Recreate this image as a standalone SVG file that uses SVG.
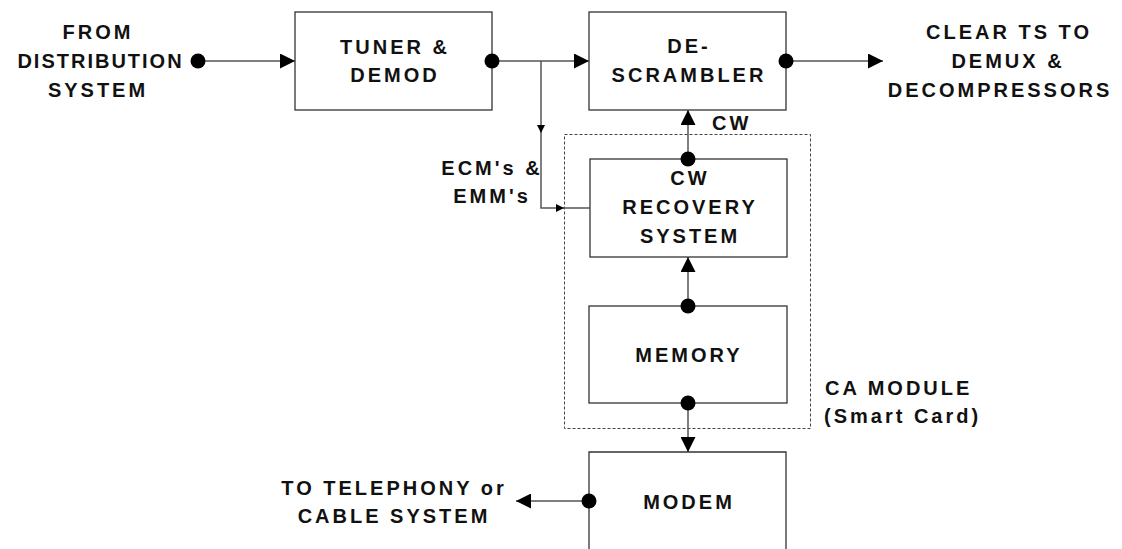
<svg xmlns="http://www.w3.org/2000/svg" width="1122" height="549" viewBox="0 0 1122 549">
<style>
  text { font-family: "Liberation Sans", Arial, sans-serif; font-weight: bold; font-size: 20px; letter-spacing: 3px; fill: #111; text-anchor: middle; }
  .box { fill: #fff; stroke: #333; stroke-width: 1.3; }
  .dash { fill: none; stroke: #444; stroke-width: 1; stroke-dasharray: 3 2; }
  .wire { fill: none; stroke: #555; stroke-width: 1.5; }
  .dot { fill: #000; }
</style>
<defs>
  <marker id="big" viewBox="0 0 15 15" markerWidth="15" markerHeight="15" refX="15" refY="7.5" orient="auto" markerUnits="userSpaceOnUse">
    <path d="M0,0 L15,7.5 L0,15 z" fill="#000"/>
  </marker>
  <marker id="small" viewBox="0 0 8 8" markerWidth="8" markerHeight="8" refX="8" refY="4" orient="auto" markerUnits="userSpaceOnUse">
    <path d="M0,0 L8,4 L0,8 z" fill="#000"/>
  </marker>
</defs>

<g id="ca-module">
  <rect class="dash" x="564.5" y="134.5" width="246" height="294"/>
  <text style="text-anchor:start" x="825" y="395">CA MODULE</text>
  <text style="text-anchor:start" x="824" y="423">(Smart Card)</text>
</g>

<g id="source">
  <text x="98" y="39">FROM</text>
  <text x="100.5" y="68" style="letter-spacing:2px">DISTRIBUTION</text>
  <text x="98" y="97">SYSTEM</text>
</g>

<g id="tuner">
  <rect class="box" x="295" y="12" width="197" height="98"/>
  <text x="395" y="54">TUNER &amp;</text>
  <text x="395" y="82">DEMOD</text>
</g>

<g id="descrambler">
  <rect class="box" x="589" y="12" width="197" height="98"/>
  <text x="689" y="53">DE-</text>
  <text x="689" y="82">SCRAMBLER</text>
</g>

<g id="output">
  <text x="1009" y="39">CLEAR TS TO</text>
  <text x="1008" y="68">DEMUX &amp;</text>
  <text x="1000" y="97">DECOMPRESSORS</text>
</g>

<g id="ecm-label">
  <text x="492" y="175">ECM's &amp;</text>
  <text x="492" y="203">EMM's</text>
</g>

<g id="cw-recovery">
  <rect class="box" x="590" y="159" width="197" height="98"/>
  <text x="690" y="185">CW</text>
  <text x="690" y="214">RECOVERY</text>
  <text x="690" y="243">SYSTEM</text>
</g>

<g id="cw-label">
  <text style="text-anchor:start" x="712" y="130">CW</text>
</g>

<g id="memory">
  <rect class="box" x="589" y="306" width="198" height="97"/>
  <text x="689" y="362">MEMORY</text>
</g>

<g id="modem">
  <path class="box" d="M589,560 V452 H786 V560"/>
  <text x="689" y="509">MODEM</text>
</g>

<g id="telephony">
  <text x="394" y="495">TO TELEPHONY or</text>
  <text x="394" y="523">CABLE SYSTEM</text>
</g>

<g id="connectors">
  <line class="wire" x1="198" y1="61" x2="295" y2="61" marker-end="url(#big)"/>
  <line class="wire" x1="492" y1="61" x2="589" y2="61" marker-end="url(#big)"/>
  <line class="wire" x1="541" y1="61" x2="541" y2="133" marker-end="url(#small)"/>
  <path class="wire" d="M541,132 V208 H564" marker-end="url(#small)"/>
  <line class="wire" x1="563" y1="208" x2="590" y2="208"/>
  <line class="wire" x1="786" y1="61" x2="883" y2="61" marker-end="url(#big)"/>
  <line class="wire" x1="688" y1="159" x2="688" y2="110" marker-end="url(#big)"/>
  <line class="wire" x1="688" y1="306" x2="688" y2="257" marker-end="url(#big)"/>
  <line class="wire" x1="688" y1="403" x2="688" y2="452" marker-end="url(#big)"/>
  <line class="wire" x1="589" y1="501" x2="516" y2="501" marker-end="url(#big)"/>
  <circle class="dot" cx="198" cy="61" r="7.5"/>
  <circle class="dot" cx="492" cy="61" r="7.5"/>
  <circle class="dot" cx="786" cy="61" r="7.5"/>
  <circle class="dot" cx="688" cy="159" r="7.5"/>
  <circle class="dot" cx="688" cy="306" r="7.5"/>
  <circle class="dot" cx="688" cy="403" r="7.5"/>
  <circle class="dot" cx="589" cy="501" r="7.5"/>
</g>
</svg>
